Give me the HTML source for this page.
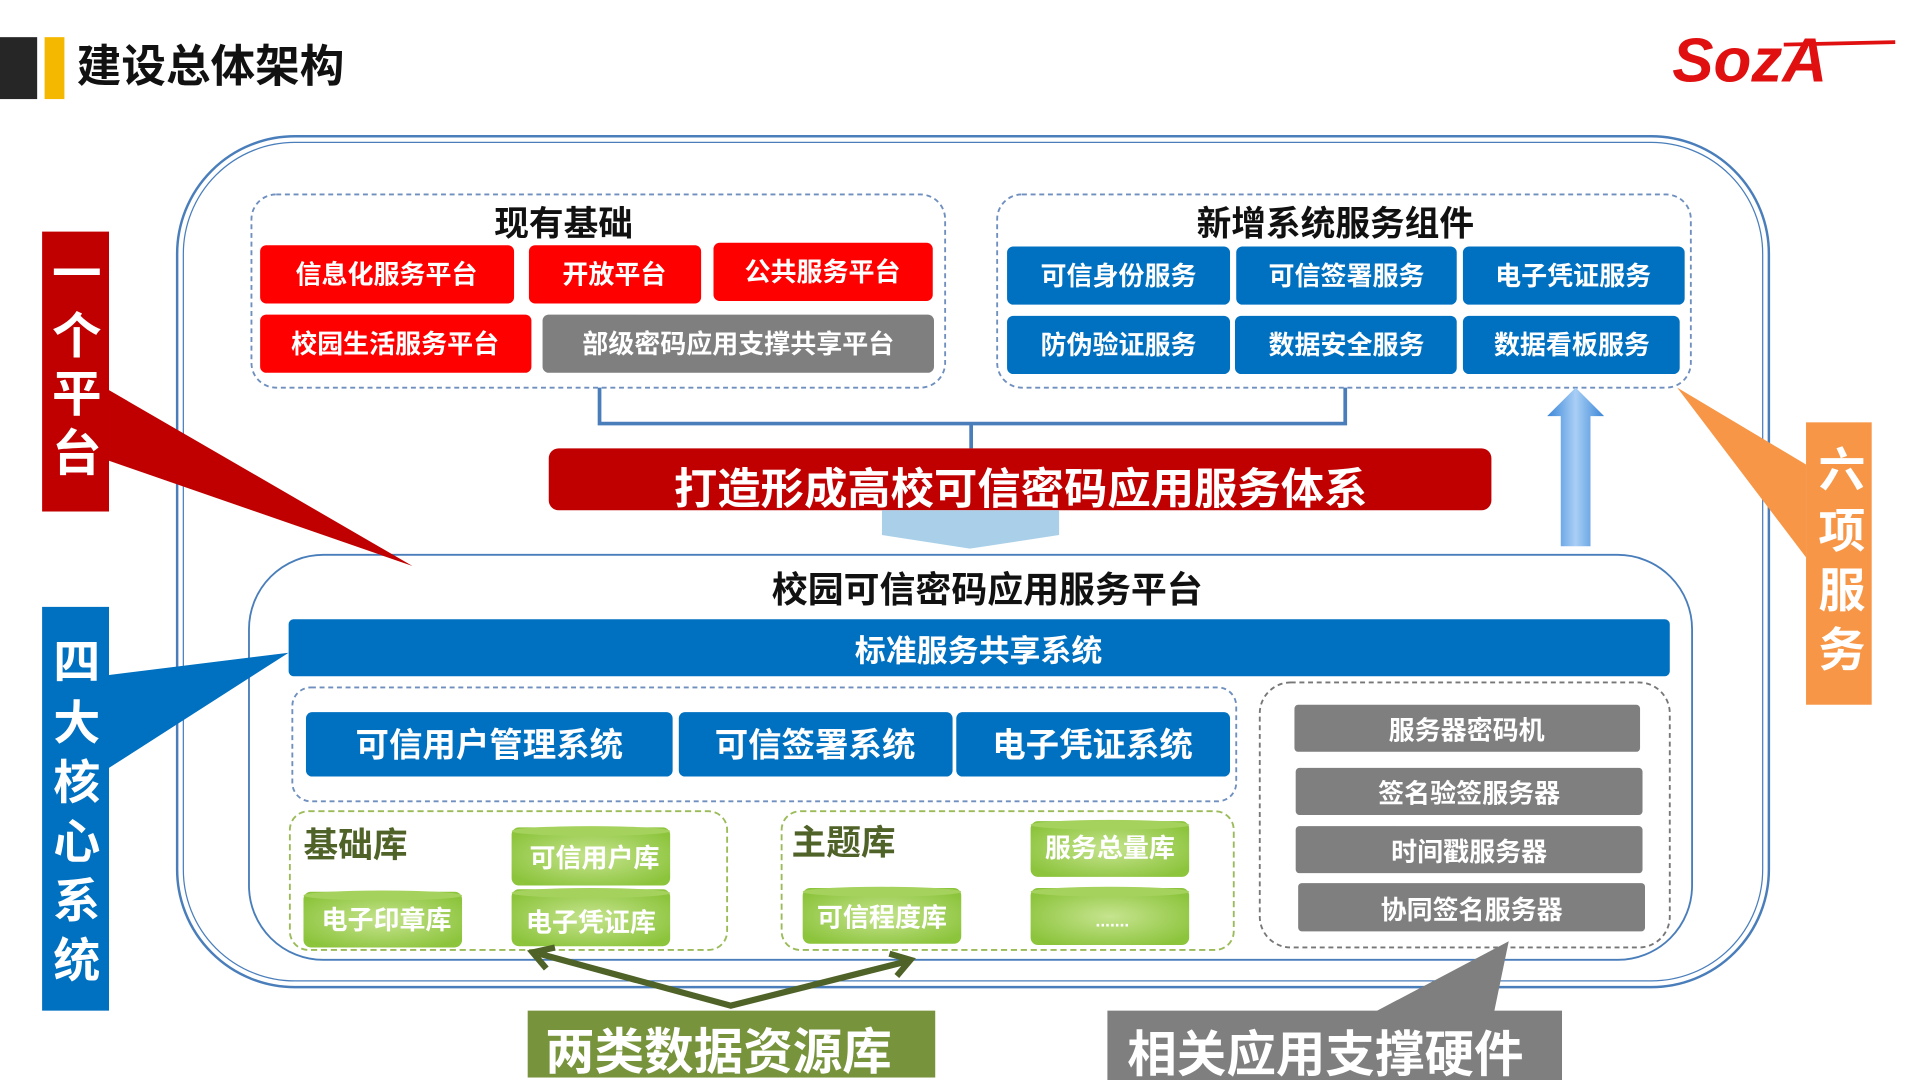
<!DOCTYPE html>
<html><head><meta charset="utf-8"><style>
html,body{margin:0;padding:0;background:#fff;width:1920px;height:1080px;overflow:hidden}
svg{display:block}
text{font-family:"Liberation Sans","Noto Sans CJK SC",sans-serif;font-weight:bold}
</style></head><body>
<svg width="1920" height="1080" viewBox="0 0 1550 872" preserveAspectRatio="none" xmlns="http://www.w3.org/2000/svg">
<defs>
<linearGradient id="up" x1="0" x2="1"><stop offset="0" stop-color="#3a86d8"/><stop offset=".5" stop-color="#a9cff5"/><stop offset="1" stop-color="#3a86d8"/></linearGradient>
<radialGradient id="cyl" cx=".5" cy=".5" r=".6"><stop offset="0" stop-color="#c6e48f"/><stop offset="1" stop-color="#8cc43c"/></radialGradient>
</defs>
<!-- header -->
<rect x="0" y="30" width="30" height="50" fill="#262626"/>
<rect x="36" y="30" width="16" height="50" fill="#f5b800"/>
<text x="62" y="66" font-size="36" fill="#111">建设总体架构</text>
<text x="1350" y="66" font-size="50" fill="#e01010" font-style="italic" font-family="Liberation Serif,serif">SozA</text>
<line x1="1440" y1="36" x2="1530" y2="34" stroke="#e01010" stroke-width="3"/>
<!-- outer -->
<rect x="143" y="110" width="1285" height="687" rx="95" fill="none" stroke="#4a7ebb" stroke-width="2"/>
<rect x="148" y="115" width="1275" height="677" rx="90" fill="none" stroke="#4a7ebb" stroke-width="1"/>
<!-- existing -->
<rect x="203" y="157" width="560" height="156" rx="20" fill="none" stroke="#6f8fbf" stroke-width="1.5" stroke-dasharray="4 3"/>
<text x="455" y="190" font-size="28" fill="#111" text-anchor="middle">现有基础</text>
<g font-size="21" fill="#fff" text-anchor="middle">
<rect x="210" y="198" width="205" height="47" rx="5" fill="#ff0000"/><text x="312" y="229">信息化服务平台</text>
<rect x="427" y="198" width="139" height="47" rx="5" fill="#ff0000"/><text x="496" y="229">开放平台</text>
<rect x="576" y="196" width="177" height="47" rx="5" fill="#ff0000"/><text x="664" y="227">公共服务平台</text>
<rect x="210" y="254" width="219" height="47" rx="5" fill="#ff0000"/><text x="319" y="285">校园生活服务平台</text>
<rect x="438" y="254" width="316" height="47" rx="5" fill="#7f7f7f"/><text x="596" y="285">部级密码应用支撑共享平台</text>
</g>
<rect x="805" y="157" width="560" height="156" rx="20" fill="none" stroke="#6f8fbf" stroke-width="1.5" stroke-dasharray="4 3"/>
<text x="1078" y="190" font-size="28" fill="#111" text-anchor="middle">新增系统服务组件</text>
<g font-size="21" fill="#fff" text-anchor="middle">
<rect x="813" y="199" width="180" height="47" rx="5" fill="#0070c0"/><text x="903" y="230">可信身份服务</text>
<rect x="998" y="199" width="178" height="47" rx="5" fill="#0070c0"/><text x="1087" y="230">可信签署服务</text>
<rect x="1181" y="199" width="179" height="47" rx="5" fill="#0070c0"/><text x="1270" y="230">电子凭证服务</text>
<rect x="813" y="255" width="180" height="47" rx="5" fill="#0070c0"/><text x="903" y="286">防伪验证服务</text>
<rect x="997" y="255" width="179" height="47" rx="5" fill="#0070c0"/><text x="1087" y="286">数据安全服务</text>
<rect x="1181" y="255" width="175" height="47" rx="5" fill="#0070c0"/><text x="1269" y="286">数据看板服务</text>
</g>
<path d="M484 313V342H1086V313M784 342V362" fill="none" stroke="#4a7ebb" stroke-width="3"/>
<rect x="443" y="362" width="761" height="50" rx="8" fill="#c00000"/>
<text x="824" y="407" font-size="35" fill="#fff" text-anchor="middle">打造形成高校可信密码应用服务体系</text>
<polygon points="712,412 855,412 855,432 783,443 712,432" fill="#a9d0e8"/>
<polygon points="1260,441 1284,441 1284,336 1295,336 1272,313 1249,336 1260,336" fill="url(#up)"/>
<!-- inner -->
<rect x="201" y="448" width="1165" height="327" rx="60" fill="none" stroke="#4a7ebb" stroke-width="1.5"/>
<text x="797" y="486" font-size="29" fill="#111" text-anchor="middle">校园可信密码应用服务平台</text>
<rect x="233" y="500" width="1115" height="46" rx="4" fill="#0070c0"/>
<text x="790" y="534" font-size="25" fill="#fff" text-anchor="middle">标准服务共享系统</text>
<rect x="236" y="555" width="762" height="92" rx="15" fill="none" stroke="#6f8fbf" stroke-width="1.5" stroke-dasharray="4 3"/>
<g font-size="27" fill="#fff" text-anchor="middle">
<rect x="247" y="575" width="296" height="52" rx="5" fill="#0070c0"/><text x="395" y="611">可信用户管理系统</text>
<rect x="548" y="575" width="221" height="52" rx="5" fill="#0070c0"/><text x="658" y="611">可信签署系统</text>
<rect x="772" y="575" width="221" height="52" rx="5" fill="#0070c0"/><text x="882" y="611">电子凭证系统</text>
</g>
<rect x="1017" y="551" width="331" height="214" rx="25" fill="none" stroke="#777" stroke-width="1.5" stroke-dasharray="4 3"/>
<g font-size="21" fill="#fff" text-anchor="middle">
<rect x="1045" y="569" width="279" height="38" rx="3" fill="#7f7f7f"/><text x="1184" y="597">服务器密码机</text>
<rect x="1046" y="620" width="280" height="38" rx="3" fill="#7f7f7f"/><text x="1186" y="648">签名验签服务器</text>
<rect x="1046" y="667" width="280" height="38" rx="3" fill="#7f7f7f"/><text x="1186" y="695">时间戳服务器</text>
<rect x="1048" y="713" width="280" height="39" rx="3" fill="#7f7f7f"/><text x="1188" y="742">协同签名服务器</text>
</g>
<rect x="234" y="655" width="353" height="112" rx="15" fill="none" stroke="#9bbb59" stroke-width="1.5" stroke-dasharray="5 3"/>
<rect x="631" y="655" width="365" height="112" rx="15" fill="none" stroke="#9bbb59" stroke-width="1.5" stroke-dasharray="5 3"/>
<text x="245" y="692" font-size="28" fill="#4f6228">基础库</text>
<text x="639" y="690" font-size="28" fill="#4f6228">主题库</text>
<g font-size="21" fill="#fff" text-anchor="middle" font-weight="normal">
<g><rect x="413" y="668" width="128" height="47" rx="6" fill="url(#cyl)"/><ellipse cx="477" cy="671" rx="64" ry="4" fill="#a5d25c"/><text x="480" y="700" font-weight="normal">可信用户库</text></g>
<g><rect x="245" y="720" width="128" height="45" rx="6" fill="url(#cyl)"/><ellipse cx="309" cy="723" rx="64" ry="4" fill="#a5d25c"/><text x="312" y="750" font-weight="normal">电子印章库</text></g>
<g><rect x="413" y="718" width="128" height="46" rx="6" fill="url(#cyl)"/><ellipse cx="477" cy="721" rx="64" ry="4" fill="#a5d25c"/><text x="477" y="752" font-weight="normal">电子凭证库</text></g>
<g><rect x="832" y="663" width="128" height="45" rx="6" fill="url(#cyl)"/><ellipse cx="896" cy="666" rx="64" ry="4" fill="#a5d25c"/><text x="896" y="692" font-weight="normal">服务总量库</text></g>
<g><rect x="648" y="717" width="128" height="45" rx="6" fill="url(#cyl)"/><ellipse cx="712" cy="720" rx="64" ry="4" fill="#a5d25c"/><text x="712" y="748" font-weight="normal">可信程度库</text></g>
<g><rect x="832" y="717" width="128" height="46" rx="6" fill="url(#cyl)"/><ellipse cx="896" cy="720" rx="64" ry="4" fill="#a5d25c"/><text x="898" y="748" font-size="14" font-weight="normal">.......</text></g>
</g>
<!-- green arrows -->
<path d="M435 770L590 812L733 776" fill="none" stroke="#4f6228" stroke-width="5"/>
<path d="M448 765L430 769L441 782M718 770L735 775L724 788" fill="none" stroke="#4f6228" stroke-width="5"/>
<rect x="426" y="816" width="329" height="54" fill="#77933c"/>
<text x="580" y="863" font-size="40" fill="#fff" text-anchor="middle">两类数据资源库</text>
<polygon points="1108,818 1206,818 1218,760" fill="#7f7f7f"/>
<rect x="894" y="816" width="367" height="56" fill="#7f7f7f"/>
<text x="1070" y="865" font-size="40" fill="#fff" text-anchor="middle">相关应用支撑硬件</text>
<!-- side labels -->
<polygon points="88,315 88,372 333,457" fill="#c00000"/>
<rect x="34" y="187" width="54" height="226" fill="#c00000"/>
<g font-size="40" fill="#fff" text-anchor="middle">
<text x="62" y="235">一</text><text x="62" y="285">个</text><text x="62" y="332">平</text><text x="62" y="380">台</text>
</g>
<polygon points="88,545 88,620 233,527" fill="#0070c0"/>
<rect x="34" y="490" width="54" height="326" fill="#0070c0"/>
<g font-size="38" fill="#fff" text-anchor="middle">
<text x="62" y="548">四</text><text x="62" y="597">大</text><text x="62" y="645">核</text><text x="62" y="693">心</text><text x="62" y="741">系</text><text x="62" y="789">统</text>
</g>
<polygon points="1458,375 1458,450 1354,313" fill="#f79646"/>
<rect x="1458" y="341" width="53" height="228" fill="#f79646"/>
<g font-size="38" fill="#fff" text-anchor="middle">
<text x="1487" y="393">六</text><text x="1487" y="442">项</text><text x="1487" y="490">服</text><text x="1487" y="538">务</text>
</g>
</svg>
</body></html>
